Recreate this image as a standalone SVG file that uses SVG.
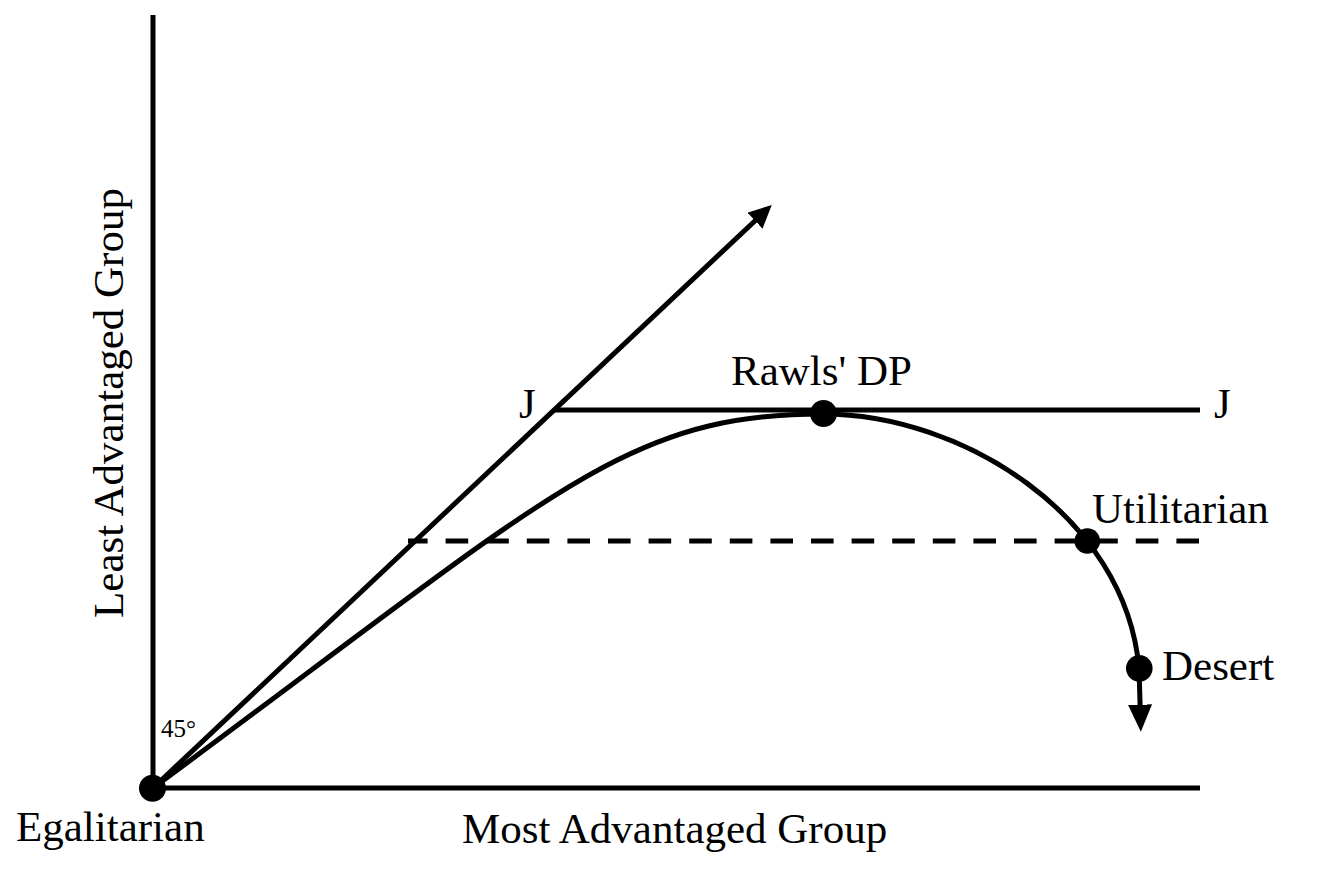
<svg xmlns="http://www.w3.org/2000/svg" width="1319" height="874" viewBox="0 0 1319 874">
  <style>
    .ln { fill: none; stroke: #000; stroke-width: 5; }
    .dash { stroke-dasharray: 22.6 18; }
    .dot { fill: #000; }
    .lbl { font-family: "Liberation Serif", "Times New Roman", serif; font-size: 43px; fill: #000; }
    .small { font-size: 25px; }
  </style>
  <defs>
    <marker id="arrowDiag" viewBox="0 0 23 22" refX="11" refY="11" markerWidth="23" markerHeight="22" markerUnits="userSpaceOnUse" orient="auto">
      <path d="M0,0 L23,11 L0,22 z" fill="#000"/>
    </marker>
    <marker id="arrowDown" viewBox="0 0 27 24" refX="15" refY="12" markerWidth="27" markerHeight="24" markerUnits="userSpaceOnUse" orient="auto">
      <path d="M0,0 L27,12 L0,24 z" fill="#000"/>
    </marker>
  </defs>
  <rect width="1319" height="874" fill="#fff"/>

  <g id="connectors">
    <path id="y-axis" class="ln" d="M153,15 V788"/>
    <path id="x-axis" class="ln" d="M153,788 H1200"/>
    <path id="line-45" class="ln" d="M153,788 L763,213.2" marker-end="url(#arrowDiag)"/>
    <path id="line-JJ" class="ln" d="M554,410 H1200"/>
    <path id="line-dashed" class="ln dash" d="M1199,541 H408"/>
    <path id="curve" class="ln" d="M153,788 C553,493 623,414 823,414 C961,414 1125,515 1139,668 L1140.5,719.7" marker-end="url(#arrowDown)"/>
  </g>

  <g id="node-egalitarian">
    <circle class="dot" cx="152.5" cy="788.3" r="13.5"/>
    <text class="lbl" x="16" y="841">Egalitarian</text>
  </g>
  <g id="node-rawls">
    <circle class="dot" cx="823.5" cy="413.5" r="13.5"/>
    <text class="lbl" x="731" y="385">Rawls' DP</text>
  </g>
  <g id="node-utilitarian">
    <circle class="dot" cx="1087.3" cy="541" r="12.8"/>
    <text class="lbl" x="1092" y="523">Utilitarian</text>
  </g>
  <g id="node-desert">
    <circle class="dot" cx="1139.3" cy="668.3" r="13.3"/>
    <text class="lbl" x="1162" y="680">Desert</text>
  </g>

  <g id="labels">
    <text class="lbl" x="519" y="418">J</text>
    <text class="lbl" x="1214" y="418">J</text>
    <text class="lbl small" x="161" y="737">45°</text>
    <text class="lbl" x="462" y="843">Most Advantaged Group</text>
    <text class="lbl" text-anchor="middle" transform="translate(123,403) rotate(-90)">Least Advantaged Group</text>
  </g>
</svg>
